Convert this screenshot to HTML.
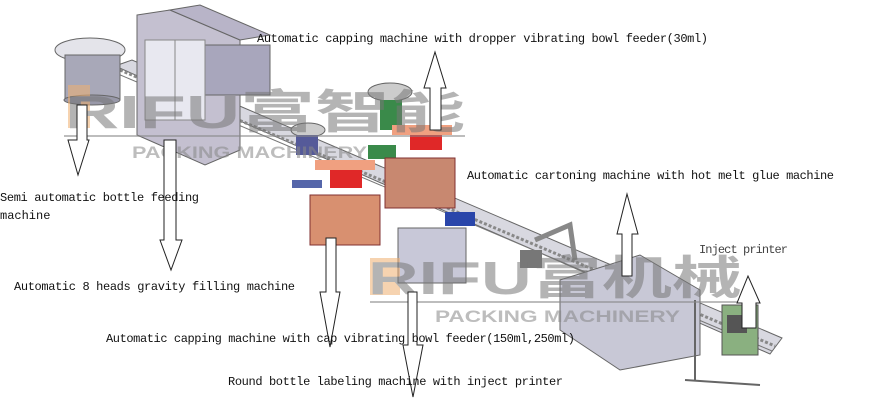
<!DOCTYPE html>
<html><head><meta charset="utf-8"><style>
html,body{margin:0;padding:0;background:#fff;}
svg{display:block;}
text{font-family:"Liberation Mono","Noto Serif CJK SC",monospace;font-size:12px;fill:#111;}
</style></head><body>
<svg width="890" height="402" viewBox="0 0 890 402" xmlns="http://www.w3.org/2000/svg">
<!-- conveyor -->
<polygon points="115,66 132,60 782,338 770,354" fill="#d8d8e0" stroke="#666" stroke-width="1"/>
<line x1="120" y1="70" x2="775" y2="346" stroke="#888" stroke-width="3" stroke-dasharray="3,2"/>
<line x1="118" y1="74" x2="772" y2="351" stroke="#777" stroke-width="1"/>
<!-- bottle feeder -->
<ellipse cx="90" cy="50" rx="35" ry="12" fill="#e4e4ea" stroke="#666"/>
<rect x="65" y="55" width="55" height="45" fill="#a8a8b8" stroke="#666"/>
<ellipse cx="92" cy="100" rx="28" ry="5" fill="#9898a8" stroke="#666"/>
<!-- filler -->
<polygon points="137,15 170,10 240,40 240,150 205,165 137,135" fill="#c4c0d0" stroke="#666"/>
<polygon points="170,10 240,40 270,35 200,5" fill="#b8b4c8" stroke="#666"/>
<rect x="205" y="45" width="65" height="50" fill="#a8a6bc" stroke="#666"/>
<rect x="145" y="40" width="60" height="80" fill="#e8e8f0" stroke="#888"/>
<line x1="175" y1="40" x2="175" y2="120" stroke="#888"/>
<!-- capper 1 -->
<ellipse cx="308" cy="130" rx="17" ry="7" fill="#ccc" stroke="#666"/>
<rect x="296" y="135" width="22" height="20" fill="#555a99"/>
<rect x="292" y="180" width="30" height="8" fill="#5566aa"/>
<rect x="310" y="195" width="70" height="50" fill="#d89070" stroke="#803030"/>
<rect x="330" y="168" width="32" height="20" fill="#e02828"/>
<rect x="315" y="160" width="60" height="10" fill="#f0a080"/>
<!-- capper 2 -->
<ellipse cx="390" cy="92" rx="22" ry="9" fill="#ccc" stroke="#666"/>
<rect x="380" y="100" width="22" height="30" fill="#3a8a4a"/>
<rect x="368" y="145" width="28" height="14" fill="#3a8a4a"/>
<rect x="385" y="158" width="70" height="50" fill="#c88870" stroke="#803030"/>
<rect x="410" y="130" width="32" height="20" fill="#e02828"/>
<rect x="392" y="125" width="60" height="10" fill="#f0a080"/>
<!-- labeler -->
<rect x="398" y="228" width="68" height="55" fill="#c8c8d8" stroke="#666"/>
<rect x="445" y="212" width="30" height="14" fill="#2a46aa"/>
<!-- cartoner -->
<polygon points="560,280 640,255 700,290 700,355 620,370 560,330" fill="#c8c8d6" stroke="#666"/>
<rect x="520" y="250" width="22" height="18" fill="#777"/>
<path d="M535 240 L570 225 L575 260" fill="none" stroke="#888" stroke-width="5"/>
<!-- printer -->
<rect x="722" y="305" width="36" height="50" fill="#8ab080" stroke="#555"/>
<rect x="727" y="315" width="20" height="18" fill="#555"/>
<line x1="695" y1="300" x2="695" y2="380" stroke="#666" stroke-width="2"/>
<line x1="685" y1="380" x2="760" y2="385" stroke="#666" stroke-width="2"/>
<!-- watermarks -->
<g opacity="0.55">
<polygon points="68,85 90,85 90,128 68,128" fill="#f0b070"/>
<text x="65" y="128" textLength="400" lengthAdjust="spacingAndGlyphs" style="font-family:'Liberation Sans','Noto Sans CJK SC',sans-serif;font-size:46px;font-weight:bold;fill:#777">RIFU富智能</text>
<text x="132" y="158" textLength="235" lengthAdjust="spacingAndGlyphs" style="font-family:'Liberation Sans',sans-serif;font-size:17px;font-weight:bold;fill:#888">PACKING MACHINERY</text>
<line x1="64" y1="136" x2="465" y2="136" stroke="#888" stroke-width="2"/>
<polygon points="370,258 400,258 400,295 370,295" fill="#f0b070"/>
<text x="368" y="294" textLength="374" lengthAdjust="spacingAndGlyphs" style="font-family:'Liberation Sans','Noto Sans CJK SC',sans-serif;font-size:46px;font-weight:bold;fill:#777">RIFU富机械</text>
<text x="435" y="322" textLength="245" lengthAdjust="spacingAndGlyphs" style="font-family:'Liberation Sans',sans-serif;font-size:17px;font-weight:bold;fill:#888">PACKING MACHINERY</text>
<line x1="370" y1="302" x2="742" y2="302" stroke="#888" stroke-width="2"/>
</g>
<!-- arrows -->
<g fill="#fff" stroke="#222" stroke-width="1">
<polygon points="77,105 87,105 87,140 89,140 78,175 68,140 77,140"/>
<polygon points="164,140 176,140 176,240 182,240 171,270 160,240 164,240"/>
<polygon points="430,130 441,130 441,88 446,88 435,52 424,88 430,88"/>
<polygon points="326,238 336,238 336,292 340,292 330,347 320,292 326,292"/>
<polygon points="408,292 417,292 417,345 423,345 413,397 403,345 408,345"/>
<polygon points="622,276 632,276 632,234 638,234 627,194 617,234 622,234"/>
<polygon points="742,328 756,328 756,303 760,303 748,276 737,303 742,303"/>
</g>
<!-- labels -->
<text x="257" y="42" textLength="451">Automatic capping machine with dropper vibrating bowl feeder(30ml)</text>
<text x="467" y="179" textLength="367">Automatic cartoning machine with hot melt glue machine</text>
<text x="0" y="201" textLength="199">Semi automatic bottle feeding</text>
<text x="0" y="219">machine</text>
<text x="14" y="290" textLength="281">Automatic 8 heads gravity filling machine</text>
<text x="699" y="253" textLength="89" style="fill:#444">Inject printer</text>
<text x="106" y="342" textLength="469">Automatic capping machine with cap vibrating bowl feeder(150ml,250ml)</text>
<text x="228" y="385" textLength="335">Round bottle labeling machine with inject printer</text>
</svg>
</body></html>
